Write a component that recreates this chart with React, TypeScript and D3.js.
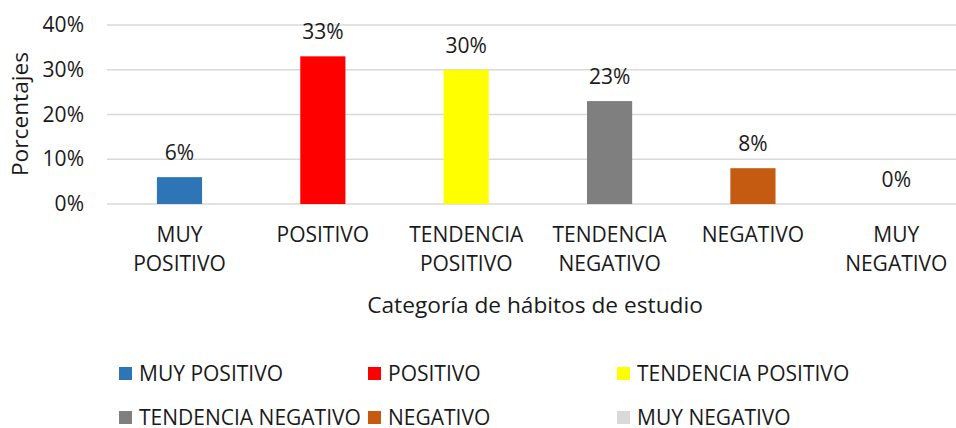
import React from "react";
import * as d3 from "d3";

const categories = ["MUY POSITIVO", "POSITIVO", "TENDENCIA POSITIVO", "TENDENCIA NEGATIVO", "NEGATIVO", "MUY NEGATIVO"];
const categoryLines = [["MUY", "POSITIVO"], ["POSITIVO"], ["TENDENCIA", "POSITIVO"], ["TENDENCIA", "NEGATIVO"], ["NEGATIVO"], ["MUY", "NEGATIVO"]];
const values = [6, 33, 30, 23, 8, 0];
const colors = ["#2E75B6", "#FF0000", "#FFFF00", "#7F7F7F", "#C55A11", "#D9D9D9"];
const yTicks = [0, 10, 20, 30, 40];

const W = 956;
const H = 428;
const FONT = "'Open Sans', sans-serif";
const FS = 21;
const TFS = 22.7;

export default function App() {
  const x = d3.scaleBand<string>().domain(categories).range([107.8, 968]).padding(0);
  const y = d3.scaleLinear().domain([0, 40]).range([204, 25]);
  const barW = x.bandwidth() * 0.315;

  const legendCols = [119, 368, 617];
  const legendRows = [367, 411];

  return (
    <svg width={W} height={H} style={{ position: "absolute", left: 0, top: 0, background: "#fff" }} fontFamily={FONT}>
      <rect x={0} y={0} width={W} height={H} fill="#fff" />
      {yTicks.map((t) => (
        <g key={t}>
          <line x1={107} x2={W} y1={y(t)} y2={y(t)} stroke="#D9D9D9" strokeWidth={1.5} />
          <text x={84} y={y(t) + 7} textAnchor="end" fontSize={FS} fill="#1a1a1a">{t}%</text>
        </g>
      ))}
      {categories.map((c, i) => {
        const cx = (x(c) as number) + x.bandwidth() / 2;
        return (
          <g key={c}>
            {values[i] > 0 && (
              <rect x={cx - barW / 2} y={y(values[i])} width={barW} height={y(0) - y(values[i])} fill={colors[i]} />
            )}
            <text x={cx} y={y(values[i]) - 17} textAnchor="middle" fontSize={FS} fill="#1a1a1a">{values[i]}%</text>
            {categoryLines[i].map((l, j) => (
              <text key={j} x={cx} y={242 + j * 29} textAnchor="middle" fontSize={FS} fill="#1a1a1a">{l}</text>
            ))}
          </g>
        );
      })}
      <text transform="translate(28,114) rotate(-90)" textAnchor="middle" fontSize={TFS} fill="#1a1a1a">Porcentajes</text>
      <text x={535} y={313} textAnchor="middle" fontSize={TFS} fill="#1a1a1a">Categoría de hábitos de estudio</text>
      {categories.map((c, i) => {
        const lx = legendCols[i % 3];
        const ly = legendRows[Math.floor(i / 3)];
        return (
          <g key={"lg" + c}>
            <rect x={lx} y={ly} width={13} height={13} fill={colors[i]} />
            <text x={lx + 20} y={ly + 14} fontSize={FS} fill="#1a1a1a">{c}</text>
          </g>
        );
      })}
    </svg>
  );
}
